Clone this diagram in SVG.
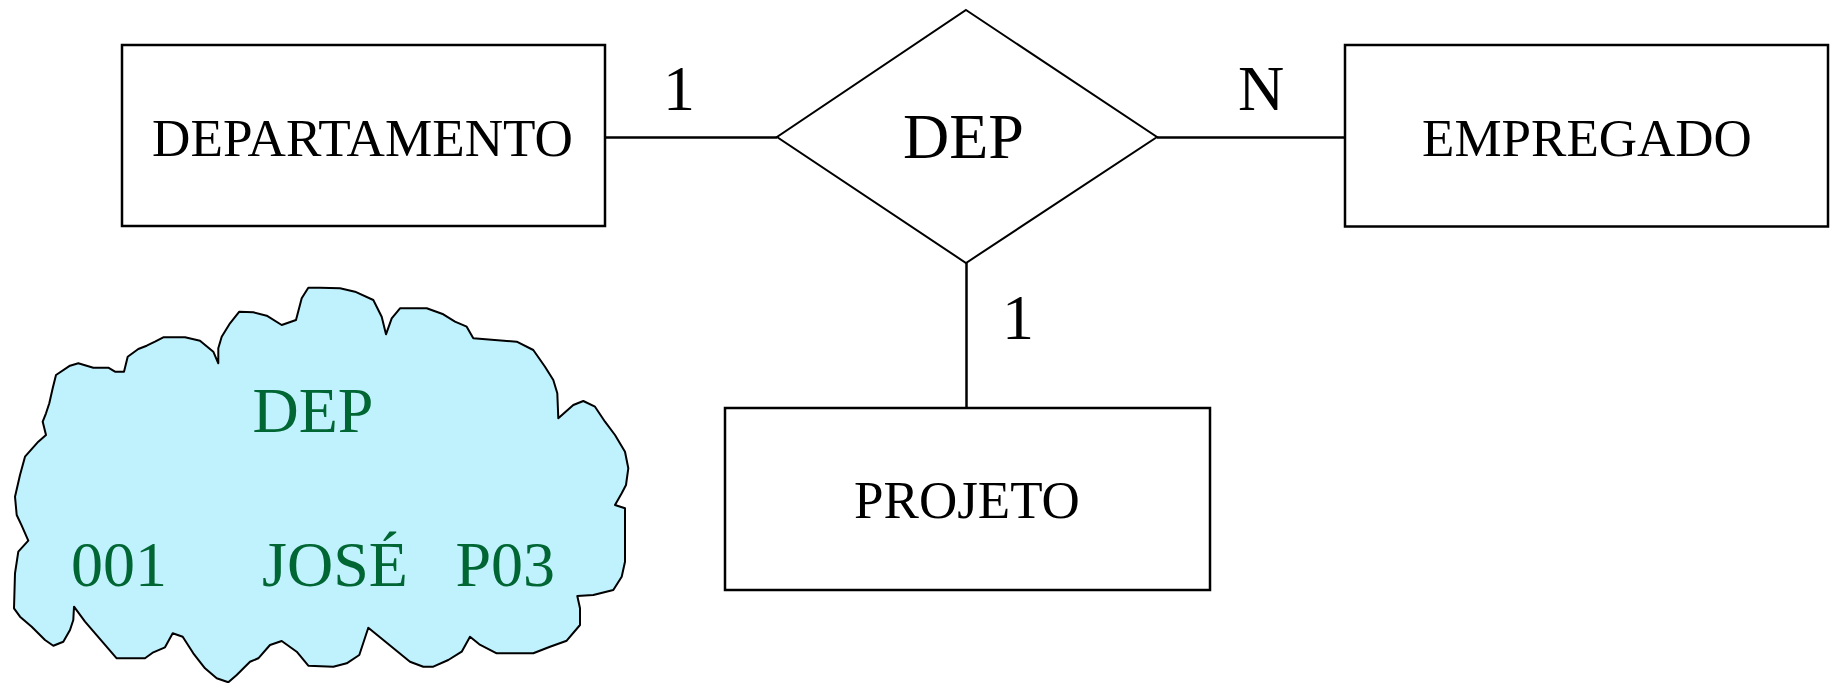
<svg xmlns="http://www.w3.org/2000/svg" width="1835" height="683" viewBox="0 0 1835 683">
  <style>
    .entity { fill: #ffffff; stroke: #000000; stroke-width: 2.5; }
    .relation { fill: #ffffff; stroke: #000000; stroke-width: 2; }
    .link { stroke: #000000; stroke-width: 2.5; fill: none; }
    .txt { font-family: "Liberation Serif", "Times New Roman", serif; fill: #000000; }
    .ent-txt { font-size: 53px; text-anchor: middle; }
    .big { font-size: 64px; }
    .mid { text-anchor: middle; }
    .cloud { fill: #C0F2FE; stroke: #000000; stroke-width: 2; stroke-linejoin: round; }
    .inst { font-family: "Liberation Serif", "Times New Roman", serif; font-size: 64px; fill: #006633; }
  </style>

  <!-- connectors with cardinality labels -->
  <g id="connectors">
    <line class="link" x1="605" y1="137.5" x2="777" y2="137.5"/>
    <line class="link" x1="1157" y1="137.5" x2="1346" y2="137.5"/>
    <line class="link" x1="966.5" y1="263" x2="966.5" y2="408"/>
    <text class="txt big mid" x="679" y="110">1</text>
    <text class="txt big mid" x="1261" y="109.5">N</text>
    <text class="txt big mid" x="1018" y="339">1</text>
  </g>

  <g id="departamento">
    <rect class="entity" x="122" y="45" width="483" height="181"/>
    <text class="txt ent-txt" x="362.5" y="155.7" textLength="421" lengthAdjust="spacingAndGlyphs">DEPARTAMENTO</text>
  </g>

  <g id="dep-relation">
    <polygon class="relation" points="966,10 1157,137 966,263 777,137"/>
    <text class="txt big mid" x="963.5" y="157.7">DEP</text>
  </g>

  <g id="empregado">
    <rect class="entity" x="1345" y="45" width="483" height="181.5"/>
    <text class="txt ent-txt" x="1587" y="155.7">EMPREGADO</text>
  </g>

  <g id="projeto">
    <rect class="entity" x="725" y="408" width="485" height="182"/>
    <text class="txt ent-txt" x="967" y="518.3">PROJETO</text>
  </g>

  <!-- sample DEP instance drawn inside an irregular cloud -->
  <g id="dep-instance">
    <polygon class="cloud" points="308.3,287.7 320,287.7 340,288.3 355,291.7 373.3,300 381.7,316.7 386,334.3 391.7,318.3 400,308.3 426.7,308.3 443.3,314.3 455,321.7 466.7,326.7 473.3,338.3 516.7,341.7 533.3,350 545,366.7 553.3,380 557.3,393.3 558.3,418.3 573.3,405 583.3,401 595,406.7 605,421.7 615,435 625,451.7 628.3,468.3 626,485 621.7,493.3 615,505 625,508.3 625,561.7 621.7,576.7 613.3,590 593.3,595 577.3,596 580,608.3 580,625 566.7,640.7 550,646.7 533.3,653.3 496.7,653.3 479.3,644.3 470,636.7 461.7,651.7 448.3,660 433.3,666.7 423.3,666.7 410,661.7 368.3,627.7 359.3,655 346.7,663.3 333.3,666.7 308.3,665.7 296.7,651.7 281.7,641 270,645 258.3,658.3 250,661.7 236.7,675 228.3,682.3 216.7,678.3 205,668.3 193.3,653.3 182.7,636.7 172.7,633.3 165,647.3 153.3,652.3 145,658.3 116.7,658.3 85,621.7 74,606.7 73.3,620 70,630 63.3,641.7 53.3,645.7 45,640 31.7,626.7 20,616.7 14,608.3 15,573.3 18.3,551.7 28.3,540.7 21.7,525.7 16.7,515 15,496.7 20,475 25,456.7 38.3,441.7 46,435 42.7,421.7 46,413.3 49.3,403.3 52.7,388.3 56,375 70,365.7 78.3,363.3 93.3,367.7 108.3,367.7 115,371.7 124,371.7 127.7,356.7 138.3,349 146.7,345.7 155,341.7 163.3,337.3 185,337.3 200,340.7 213.3,351.7 218.3,363.3 218.3,348.3 221.7,336.7 230,323.3 239.3,311.7 253.3,312.3 266.7,315.7 281.7,325 296,320 301.7,298.3"/>
    <text class="inst" x="313" y="431.7" text-anchor="middle">DEP</text>
    <text class="inst" x="71" y="585.7">001</text>
    <text class="inst" x="262" y="585.7">JOSÉ</text>
    <text class="inst" x="455.5" y="585.7">P03</text>
  </g>
</svg>
